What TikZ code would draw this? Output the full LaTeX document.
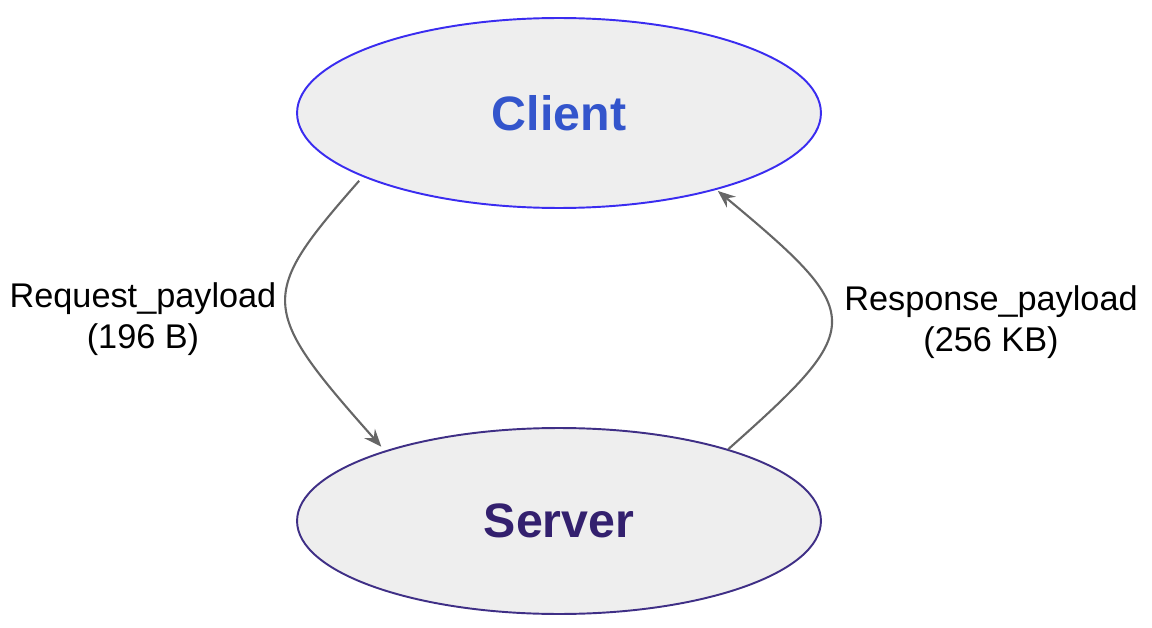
\documentclass[tikz,border=0pt]{standalone}
\usepackage{fontspec}
\setmainfont{Liberation Sans}
\usetikzlibrary{shapes.geometric,arrows.meta}
\definecolor{fillgray}{HTML}{EEEEEE}
\definecolor{clientborder}{HTML}{3A2CF0}
\definecolor{clienttext}{HTML}{3355CC}
\definecolor{serverborder}{HTML}{3F2F86}
\definecolor{servertext}{HTML}{33206E}
\definecolor{linkgray}{HTML}{666666}
\tikzset{
  endpoint/.style={ellipse, fill=fillgray, line width=1.1pt, inner sep=0pt,
    minimum width=10.48cm, font=\fontsize{27.5}{33}\selectfont\bfseries},
  link/.style={draw=linkgray, line width=1.2pt, -{Stealth[length=10pt,width=8pt,inset=3.5pt]}},
  lbl/.style={align=center, font=\fontsize{19.5}{23.5}\selectfont, text=black}
}
\begin{document}
\begin{tikzpicture}[x=0.02cm, y=-0.02cm]
\useasboundingbox (0,0) rectangle (1152,628);
\node[endpoint, draw=clientborder, text=clienttext, minimum height=3.8cm] (client) at (559,113) {Client};
\node[endpoint, draw=serverborder, text=servertext, minimum height=3.72cm] (server) at (559,521) {Server};
\draw[link, shorten <=3pt, shorten >=3pt] (client.198) .. controls (258,296) and (258,308) .. (server.158);
\draw[link, shorten >=1pt] (server.23) .. controls (867,326) and (867,315) .. (client.-26);
\node[lbl] (req) at (143,319) {Request\_payload\\(196 B)};
\node[lbl] (resp) at (991,322) {Response\_payload\\(256 KB)};
\end{tikzpicture}
\end{document}
